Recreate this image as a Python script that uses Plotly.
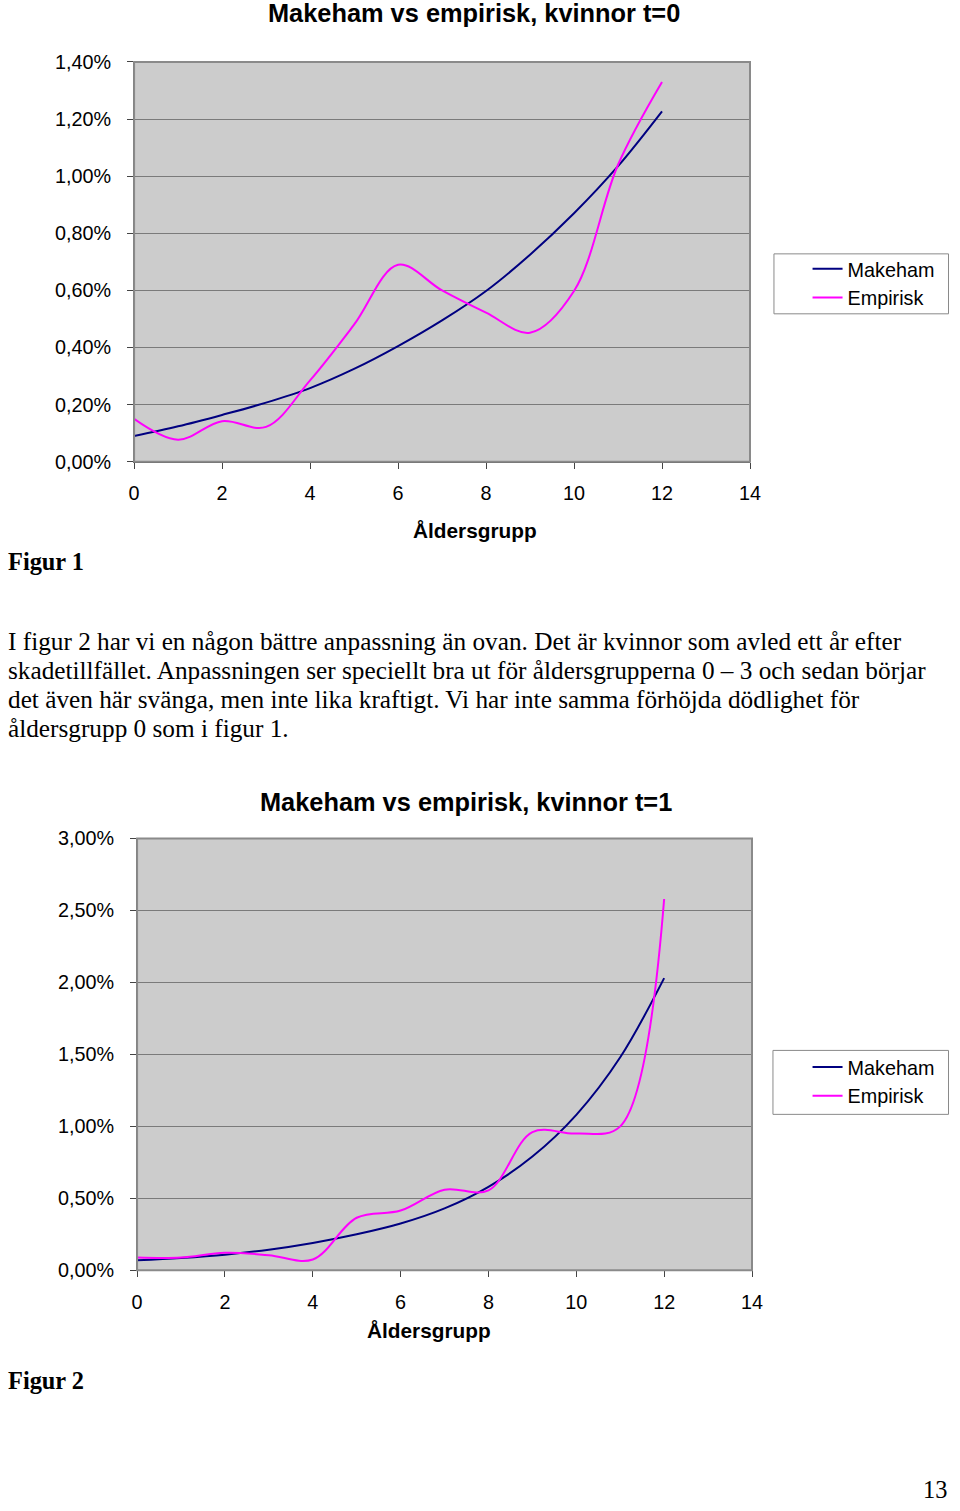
import plotly.graph_objects as go

W, H = 960, 1511
# measured page transform of the viewer: image = A + S * figure coordinate
AX, SX = 4.7, 0.984
AY, SY = 10.0, 0.986
FS = 1.015  # font compensation for the same shrink

# ---- data ----
age_groups = list(range(13))
makeham_t0 = [0.00090, 0.00124, 0.00164, 0.00207, 0.00258, 0.00325, 0.00405,
              0.00495, 0.00598, 0.00725, 0.00870, 0.01035, 0.01227]
empirisk_t0 = [0.00150, 0.00077, 0.00142, 0.00122, 0.00285, 0.00480, 0.00690,
               0.00600, 0.00522, 0.00452, 0.00598, 0.01040, 0.01330]
makeham_t1 = [0.00069, 0.00085, 0.00108, 0.00143, 0.00190, 0.00250, 0.00325,
              0.00430, 0.00580, 0.00790, 0.01080, 0.01480, 0.02030]
empirisk_t1 = [0.00088, 0.00088, 0.00122, 0.00105, 0.00075, 0.00365, 0.00415,
               0.00560, 0.00555, 0.00960, 0.00950, 0.01000, 0.02580]

x_ticks = [0, 2, 4, 6, 8, 10, 12, 14]

title_1 = "Makeham vs empirisk, kvinnor t=0"
title_2 = "Makeham vs empirisk, kvinnor t=1"
x_title = "Åldersgrupp"
body_lines = [
    "I figur 2 har vi en någon bättre anpassning än ovan. Det är kvinnor som avled ett år efter",
    "skadetillfället. Anpassningen ser speciellt bra ut för åldersgrupperna 0 – 3 och sedan börjar",
    "det även här svänga, men inte lika kraftigt. Vi har inte samma förhöjda dödlighet för",
    "åldersgrupp 0 som i figur 1.",
]

NAVY = "#000080"
MAGENTA = "#FF00FF"
SANS = "Liberation Sans, Arial, sans-serif"
SERIF = "Liberation Serif, Times New Roman, serif"


def fx(x):
    return min(max((x - AX) / SX, 0), W)


def fy(y):
    return min(max((y - AY) / SY, 0), H)


def px(x):
    return fx(x) / W


def py(y):
    return 1 - fy(y) / H


def fs(s):
    return round(s * FS, 2)


fig = go.Figure()

fig.add_trace(go.Scatter(x=age_groups, y=makeham_t0, name="Makeham", mode="lines",
                         line=dict(color=NAVY, width=2, shape="spline", smoothing=1),
                         xaxis="x", yaxis="y", legend="legend"))
fig.add_trace(go.Scatter(x=age_groups, y=empirisk_t0, name="Empirisk", mode="lines",
                         line=dict(color=MAGENTA, width=2, shape="spline", smoothing=1),
                         xaxis="x", yaxis="y", legend="legend"))
fig.add_trace(go.Scatter(x=age_groups, y=makeham_t1, name="Makeham", mode="lines",
                         line=dict(color=NAVY, width=2, shape="spline", smoothing=1),
                         xaxis="x2", yaxis="y2", legend="legend2"))
fig.add_trace(go.Scatter(x=age_groups, y=empirisk_t1, name="Empirisk", mode="lines",
                         line=dict(color=MAGENTA, width=2, shape="spline", smoothing=1),
                         xaxis="x2", yaxis="y2", legend="legend2"))

xcommon = dict(range=[0, 14], tickvals=x_ticks, ticks="outside", ticklen=6,
               tickcolor="#444444", showline=True, linecolor="#444444", linewidth=1,
               showgrid=False, zeroline=False,
               tickfont=dict(family=SANS, size=fs(19.5), color="black"),
               ticklabelstandoff=8)
ycommon = dict(ticks="outside", ticklen=6, tickcolor="#444444", showline=True,
               linecolor="#444444", linewidth=1, showgrid=True, gridcolor="#7a7a7a",
               gridwidth=1, zeroline=False, tickformat=".2%",
               tickfont=dict(family=SANS, size=fs(19.5), color="black"), ticklabelstandoff=12)

fig.update_layout(
    width=W, height=H, margin=dict(l=0, r=0, t=0, b=0),
    paper_bgcolor="white", plot_bgcolor="#CCCCCC", separators=",.",
    showlegend=True,
    xaxis=dict(domain=[px(133), px(750)], anchor="y", **xcommon),
    yaxis=dict(domain=[py(461), py(61)], anchor="x", range=[0, 0.014], dtick=0.002, **ycommon),
    xaxis2=dict(domain=[px(136), px(752)], anchor="y2", **xcommon),
    yaxis2=dict(domain=[py(1270), py(838)], anchor="x2", range=[0, 0.03], dtick=0.005, **ycommon),
    legend=dict(x=816 / W, y=1 - 242 / H, xanchor="left", yanchor="top",
                bgcolor="rgba(0,0,0,0)", borderwidth=0,
                font=dict(family=SANS, size=fs(19.5), color="black"), tracegroupgap=0),
    legend2=dict(x=816 / W, y=1 - 1052 / H, xanchor="left", yanchor="top",
                 bgcolor="rgba(0,0,0,0)", borderwidth=0,
                 font=dict(family=SANS, size=fs(19.5), color="black"), tracegroupgap=0),
)

shapes = []
# plot area borders
for xr, yr in (("x domain", "y domain"), ("x2 domain", "y2 domain")):
    shapes.append(dict(type="rect", xref=xr, yref=yr, x0=0, x1=1, y0=0, y1=1,
                       line=dict(color="#8a8a8a", width=2), layer="above"))
# legend boxes
for (x0, y0, x1, y1) in ((774, 253, 958, 313), (773, 1050, 957, 1114)):
    shapes.append(dict(type="rect", xref="paper", yref="paper", x0=px(x0),
                       x1=min(px(x1), 959.5 / W),
                       y0=py(y1), y1=py(y0), fillcolor="white",
                       line=dict(color="#8a8a8a", width=1), layer="below"))
fig.update_layout(shapes=shapes)

ann = []


def add_text(text, x, y, anchor, family, size):
    ann.append(dict(text=text, x=x, y=y, xref="paper", yref="paper", showarrow=False,
                    xanchor=anchor, yanchor="middle",
                    font=dict(family=family, size=size, color="black")))


add_text("<b>%s</b>" % title_1, px(474), py(12), "center", SANS, fs(25))
add_text("<b>%s</b>" % title_2, px(465), py(801), "center", SANS, fs(25))
add_text("<b>%s</b>" % x_title, px(475), py(530), "center", SANS, fs(20.5))
add_text("<b>%s</b>" % x_title, px(428), py(1330), "center", SANS, fs(20.5))
add_text("<b>Figur 1</b>", px(4), py(561), "left", SERIF, fs(24))
add_text("<b>Figur 2</b>", px(4), py(1380), "left", SERIF, fs(24))
for i, line in enumerate(body_lines):
    add_text(line, px(4), py(640 + 29 * i), "left", SERIF, fs(24.9))
add_text("13", 1.0, 1 - 1500 / H, "right", SERIF, fs(24))

fig.update_layout(annotations=ann)

fig.write_html("out.html")
